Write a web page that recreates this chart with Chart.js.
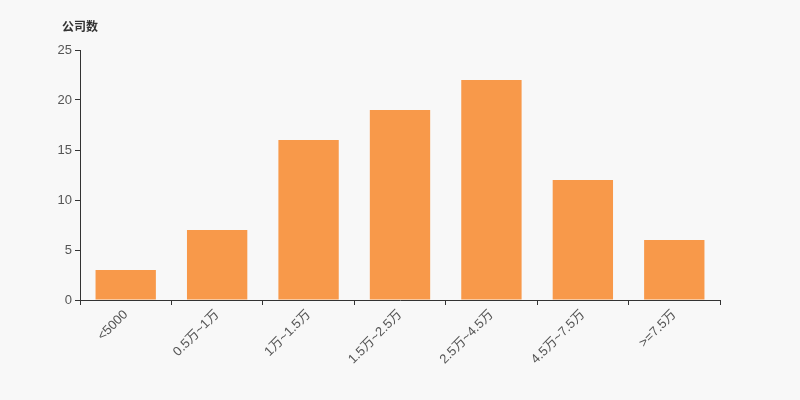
<!DOCTYPE html>
<html>
<head>
<meta charset="utf-8">
<script src="https://cdn.jsdelivr.net/npm/chart.js@4"></script>
<style>
	html, body { margin: 0; padding: 0; background: #f8f8f8; }
	#wrap { width: 800px; height: 400px; }
</style>
</head>
<body>
<div id="wrap"><canvas id="c" width="800" height="400"></canvas></div>
<script>
// Distribution of companies by amount bracket.
const categories = ['<5000', '0.5万~1万', '1万~1.5万', '1.5万~2.5万', '2.5万~4.5万', '4.5万~7.5万', '>=7.5万'];
const counts = [3, 7, 16, 19, 22, 12, 6];
const yTicks = [0, 5, 10, 15, 20, 25];

const FONT = "'Liberation Sans', 'Noto Sans CJK SC', sans-serif";
const AXIS = '#333';
const LABEL = '#555';

// Small caption above the y axis.
const unitTitle = {
	id: 'unitTitle',
	afterDraw(chart) {
		const ctx = chart.ctx;
		const x = chart.scales.y.right;
		ctx.save();
		ctx.font = `bold 12px ${FONT}`;
		ctx.fillStyle = '#333';
		ctx.textAlign = 'center';
		ctx.textBaseline = 'middle';
		ctx.fillText('公司数', x, 28);
		ctx.restore();
	},
};

new Chart(document.getElementById('c'), {
	type: 'bar',
	data: {
		labels: categories,
		datasets: [{
			data: counts,
			backgroundColor: '#f8994a',
			borderWidth: 0,
			barPercentage: 0.66,
			categoryPercentage: 1,
		}],
	},
	options: {
		responsive: false,
		animation: false,
		layout: { padding: { top: 50, right: 80, left: 0, bottom: 0 } },
		plugins: { legend: { display: false }, tooltip: { enabled: false } },
		scales: {
			x: {
				grid: { display: true, drawOnChartArea: false, offset: true, color: AXIS, tickLength: 5 },
				border: { color: AXIS, width: 1 },
				ticks: { color: LABEL, font: { family: FONT, size: 13 }, minRotation: 45, maxRotation: 45, padding: 2 },
				afterFit: (s) => { s.height = 100; },
			},
			y: {
				min: 0,
				max: 25,
				afterBuildTicks: (s) => { s.ticks = yTicks.map((v) => ({ value: v })); },
				grid: { display: true, drawOnChartArea: false, color: AXIS, tickLength: 5 },
				border: { color: AXIS, width: 1 },
				ticks: { color: LABEL, font: { family: FONT, size: 13 }, padding: 3 },
				afterFit: (s) => { s.width = 80; },
			},
		},
	},
	plugins: [unitTitle],
});
</script>
</body>
</html>
